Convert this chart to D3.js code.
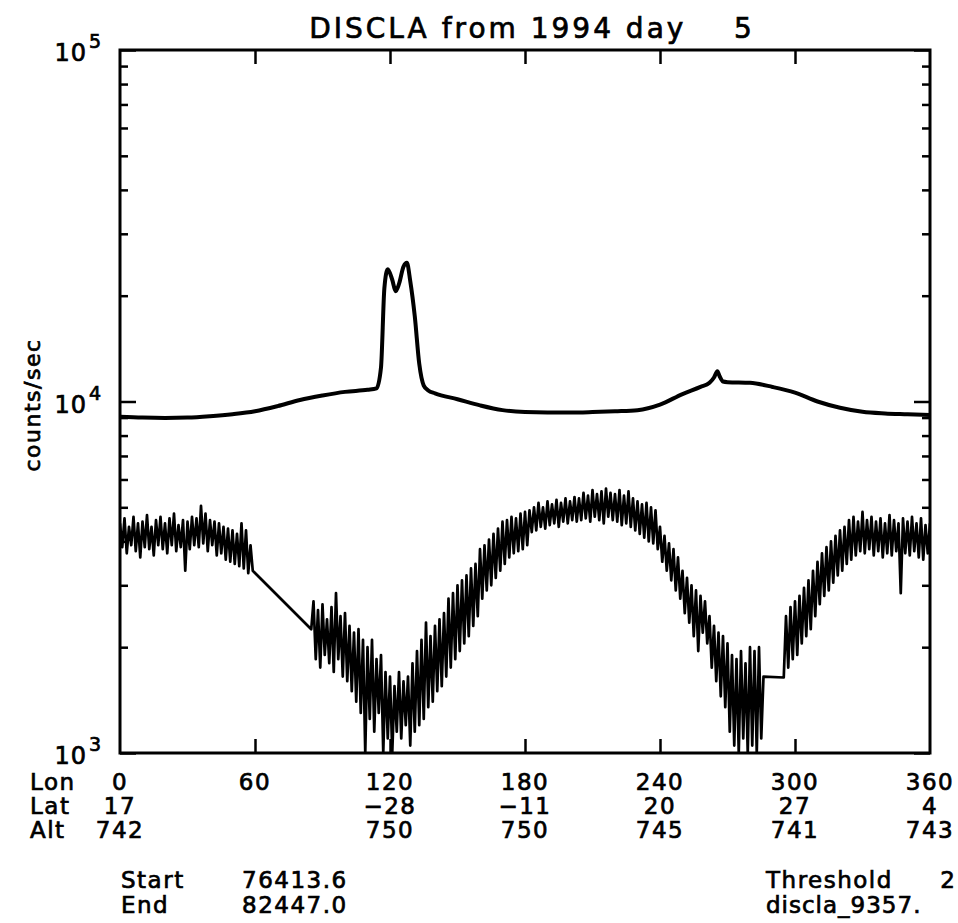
<!DOCTYPE html>
<html>
<head>
<meta charset="utf-8">
<title>DISCLA from 1994 day 5</title>
<script src="https://d3js.org/d3.v7.min.js"></script>
<style>
  body { margin: 0; background: #fff; }
  svg { font-family: "DejaVu Sans", sans-serif; }
  text { fill: #000; stroke: #000; stroke-width: 0.7px; white-space: pre; }
</style>
</head>
<body>
<svg width="958" height="923"></svg>
<script>
// upper trace (smooth, around 1e4 counts/sec)
const upperLon = [0, 10, 20, 30, 40, 50, 60, 70, 80, 90, 100, 110, 114, 116, 117.5, 119, 121, 122.5, 124, 126,
  127.5, 129, 131, 133, 135, 137, 140, 150, 160, 170, 180, 190, 200, 210, 220, 230, 240, 250, 258, 262,
  264, 265.5, 266.5, 268, 270, 280, 290, 300, 310, 320, 330, 340, 350, 360];
const upperCounts = [9050, 9000, 8980, 9000, 9080, 9200, 9380, 9700, 10100, 10400, 10650, 10800, 10900, 12500, 21000, 23800, 22200, 20600, 21600, 24200,
  24800, 22000, 17500, 12800, 11100, 10750, 10550, 10150, 9750, 9450, 9330, 9300, 9300, 9330, 9380, 9450, 9800, 10500, 11000, 11300,
  11700, 12200, 11800, 11400, 11350, 11300, 11000, 10600, 10000, 9600, 9350, 9250, 9200, 9150];

// lower trace (noisy), one reading per degree of longitude, three stretches with data
const lowerStart = [0, 85, 295];
const lowerA = [
  4500, 3850, 4650, 3700, 4400, 3900, 4700, 3750, 4500, 3600,
  4550, 3850, 4750, 3800, 4400, 3650, 4600, 3900, 4700, 3800,
  4500, 3700, 4650, 3900, 4800, 3750, 4450, 3850, 4600, 3300,
  4550, 3800, 4700, 3900, 4650, 3850, 5050, 3950, 4800, 3750,
  4600, 3900, 4550, 3650, 4500, 3700, 4400, 3550, 4350, 3500,
  4300, 3450, 4200, 3400, 4500, 3350, 4300, 3250, 3900, 3300];
const lowerB = [
  2250, 2700, 1850, 2550, 1750, 2650, 1900, 2400, 1800, 2600,
  1700, 2850, 1850, 2450, 1650, 2500, 1600, 2300, 1500, 2200,
  1400, 2250, 1300, 2100, 1000, 2000, 1250, 2100, 1150, 1850,
  1300, 1900, 1000, 1700, 1100, 1650, 1000, 1550, 1150, 1700,
  1100, 1600, 1200, 1650, 1050, 1800, 1150, 1950, 1200, 2100,
  1250, 2350, 1350, 2150, 1400, 2300, 1500, 2400, 1550, 2500,
  1650, 2750, 1750, 2850, 1850, 3000, 1950, 3100, 2050, 3200,
  2150, 3350, 2300, 3450, 2450, 3800, 2750, 3900, 2900, 4050,
  3000, 4200, 3150, 4350, 3300, 4550, 3450, 4600, 3600, 4700,
  3700, 4650, 3750, 4800, 3800, 4850, 3900, 4900, 4250, 5000,
  4300, 5150, 4400, 5000, 4350, 5200, 4450, 5100, 4500, 5250,
  4400, 5150, 4550, 5300, 4500, 5200, 4600, 5350, 4550, 5300,
  4600, 5500, 4650, 5400, 4550, 5600, 4700, 5450, 4600, 5550,
  4500, 5650, 4700, 5500, 4600, 5450, 4550, 5600, 4450, 5400,
  4500, 5550, 4400, 5300, 4300, 5200, 4200, 5100, 4100, 5150,
  4000, 5000, 3950, 4900, 3800, 4400, 3500, 4150, 3300, 3950,
  3100, 3800, 2900, 3600, 2750, 3300, 2500, 3150, 2350, 3000,
  2150, 2900, 1950, 2800, 2200, 2700, 2050, 2450, 1750, 2300,
  1600, 2200, 1450, 2150, 1350, 2050, 1150, 1900, 1050, 1850,
  1000, 1950, 1100, 1800, 1000, 2000, 1050, 1950, 1000, 2000,
  1100, 1650];
const lowerC = [
  1640, 2450, 1750, 2600, 1850, 2700, 1900, 2800, 2050, 2950,
  2150, 3100, 2250, 3300, 2450, 3500, 2650, 3700, 2800, 3850,
  2900, 4000, 3050, 4150, 3200, 4300, 3300, 4400, 3450, 4600,
  3550, 4700, 3650, 4550, 3750, 4850, 3700, 4600, 3800, 4700,
  3650, 4550, 3750, 4650, 3600, 4500, 3700, 4750, 3650, 4600,
  3750, 4500, 2850, 4650, 3700, 4550, 3650, 4700, 3750, 4500,
  3600, 4650, 3550, 4450, 3700, 4500];

// labels under the plot
const lonTicks = [0, 60, 120, 180, 240, 300, 360];
const latLabels = ["17", "", "\u221228", "\u221211", "20", "27", "4"];
const altLabels = ["742", "", "750", "750", "745", "741", "743"];
const decades = [1e3, 1e4, 1e5];
const decadeExp = ["3", "4", "5"];

const svg = d3.select("svg");
const pL = 120, pR = 930, pT = 50, pB = 753;

const x = d3.scaleLinear().domain([0, 360]).range([pL, pR]);
const y = d3.scaleLog().domain([1e3, 1e5]).range([pB, pT]).clamp(true);

svg.append("clipPath").attr("id", "plot")
  .append("rect").attr("x", pL).attr("y", pT).attr("width", pR - pL).attr("height", pB - pT);

// lower trace
let lowerPts = [];
[lowerA, lowerB, lowerC].forEach((seg, k) => {
  seg.forEach((v, i) => lowerPts.push([lowerStart[k] + i, v]));
});
svg.append("path")
  .datum(lowerPts)
  .attr("clip-path", "url(#plot)")
  .attr("fill", "none")
  .attr("stroke", "#000")
  .attr("stroke-width", 2.7)
  .attr("stroke-linejoin", "round")
  .attr("d", d3.line().x(d => x(d[0])).y(d => y(d[1])));

// upper trace
svg.append("path")
  .datum(d3.zip(upperLon, upperCounts))
  .attr("clip-path", "url(#plot)")
  .attr("fill", "none")
  .attr("stroke", "#000")
  .attr("stroke-width", 4)
  .attr("d", d3.line().x(d => x(d[0])).y(d => y(d[1])).curve(d3.curveMonotoneX));

// axes: ticks point inward
let minor = [];
decades.slice(0, -1).forEach(d => d3.range(2, 10).forEach(m => minor.push(d * m)));

function styleAxis(g) {
  g.select(".domain").remove();
  g.selectAll(".tick line").attr("stroke", "#000").attr("stroke-width", 2.5);
}
svg.append("g").attr("transform", `translate(${pL},0)`)
  .call(d3.axisLeft(y).tickValues(minor).tickSize(-8).tickFormat("")).call(styleAxis);
svg.append("g").attr("transform", `translate(${pL},0)`)
  .call(d3.axisLeft(y).tickValues(decades).tickSize(-16).tickFormat("")).call(styleAxis);
svg.append("g").attr("transform", `translate(${pR},0)`)
  .call(d3.axisRight(y).tickValues(minor).tickSize(-8).tickFormat("")).call(styleAxis);
svg.append("g").attr("transform", `translate(${pR},0)`)
  .call(d3.axisRight(y).tickValues(decades).tickSize(-16).tickFormat("")).call(styleAxis);
svg.append("g").attr("transform", `translate(0,${pB})`)
  .call(d3.axisBottom(x).tickValues(lonTicks.slice(1, -1)).tickSize(-14).tickFormat("")).call(styleAxis);
svg.append("g").attr("transform", `translate(0,${pT})`)
  .call(d3.axisTop(x).tickValues(lonTicks.slice(1, -1)).tickSize(-14).tickFormat("")).call(styleAxis);

svg.append("rect")
  .attr("x", pL).attr("y", pT).attr("width", pR - pL).attr("height", pB - pT)
  .attr("fill", "none").attr("stroke", "#000").attr("stroke-width", 3);

// decade labels 10^n
svg.append("g").selectAll("text").data(decades).join("text")
  .attr("x", 87).attr("y", d => y(d) + 11)
  .attr("text-anchor", "end")
  .style("font-size", "24px").style("letter-spacing", "1px")
  .text("10");
svg.append("g").selectAll("text").data(decades).join("text")
  .attr("x", 89).attr("y", d => y(d) - 2)
  .style("font-size", "19px")
  .text((d, i) => decadeExp[i]);

svg.append("text")
  .attr("transform", "translate(40,405) rotate(-90)")
  .attr("text-anchor", "middle")
  .style("font-size", "22px").style("letter-spacing", "1.5px")
  .text("counts/sec");

svg.append("text")
  .attr("x", 532).attr("y", 38)
  .attr("text-anchor", "middle")
  .style("font-size", "28px").style("letter-spacing", "3px")
  .text("DISCLA from 1994 day    5");

// Lon / Lat / Alt rows
const rows = [lonTicks.map(String), latLabels, altLabels];
const rowNames = ["Lon", "Lat", "Alt"];
rows.forEach((labels, r) => {
  const yy = 790 + r * 24;
  svg.append("text").attr("x", 30).attr("y", yy)
    .style("font-size", "23px").style("letter-spacing", "1.5px").text(rowNames[r]);
  svg.append("g").selectAll("text").data(labels).join("text")
    .attr("x", (d, i) => x(lonTicks[i]))
    .attr("y", yy)
    .attr("text-anchor", "middle")
    .style("font-size", "23px").style("letter-spacing", "1.5px")
    .text(d => d);
});

const foot = [["Start", "76413.6"], ["End", "82447.0"]];
foot.forEach((f, i) => {
  svg.append("text").attr("x", 121).attr("y", 888 + i * 25)
    .style("font-size", "23px").style("letter-spacing", "1.5px").text(f[0]);
  svg.append("text").attr("x", 242).attr("y", 888 + i * 25)
    .style("font-size", "23px").style("letter-spacing", "1.5px").text(f[1]);
});
svg.append("text").attr("x", 766).attr("y", 888)
  .style("font-size", "23px").style("letter-spacing", "1.5px").text("Threshold");
svg.append("text").attr("x", 955).attr("y", 888).attr("text-anchor", "end")
  .style("font-size", "23px").text("2");
svg.append("text").attr("x", 766).attr("y", 913)
  .style("font-size", "23px").style("letter-spacing", "1px").text("discla_9357.");
</script>
</body>
</html>
